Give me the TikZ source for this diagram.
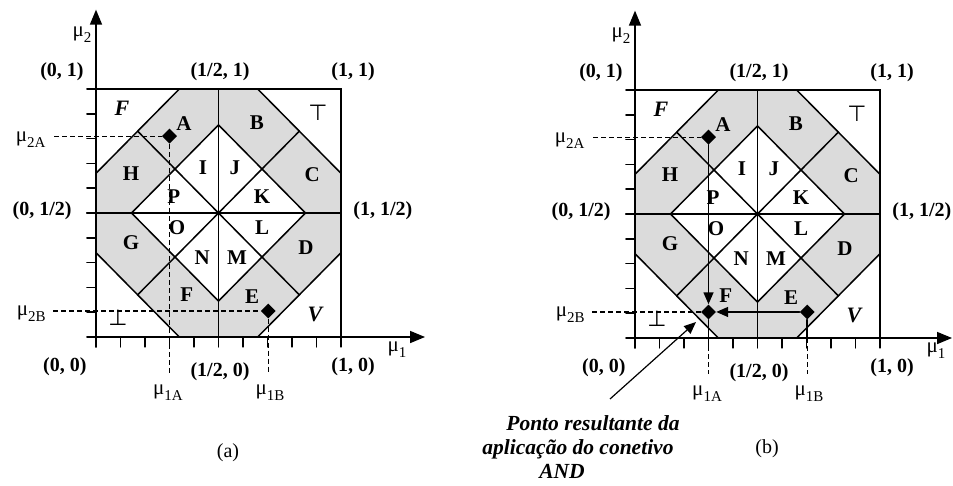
\documentclass[tikz,border=0pt]{standalone}
\usepackage{fontspec}
\setmainfont{Liberation Serif}
\newfontfamily\symf{DejaVu Sans}
\usetikzlibrary{arrows.meta,shapes.geometric}
\newcommand\mulbl[1]{μ\raisebox{-0.28em}{\fontsize{15}{15}\selectfont #1}}
\tikzset{
  ln/.style={line width=1.5pt, line cap=round},
  thinln/.style={line width=1.2pt},
  coordlbl/.style={font=\fontsize{20}{20}\selectfont\bfseries, inner sep=0pt},
  reglbl/.style={font=\fontsize{21}{21}\selectfont\bfseries, inner sep=0pt},
  itlbl/.style={font=\fontsize{22}{22}\selectfont\bfseries\itshape, inner sep=0pt},
  symlbl/.style={font=\fontsize{22}{22}\selectfont\symf, inner sep=0pt},
  mulab/.style={font=\fontsize{21}{21}\selectfont, inner sep=0pt},
  caplbl/.style={font=\fontsize{20}{20}\selectfont, inner sep=0pt},
  annot/.style={font=\fontsize{21.5}{24}\selectfont\bfseries\itshape, inner sep=0pt, align=center},
  ptmark/.style={diamond, fill=black, minimum width=15pt, minimum height=15pt, inner sep=0pt},
  dsh/.style={line width=1.2pt, dash pattern=on 5pt off 3pt},
  axtip/.style={-{Triangle[length=15pt,width=12pt]}},
  smalltip/.style={-{Triangle[length=12pt,width=10pt]}},
  region/.style={fill=black!14},
}
\begin{document}
\begin{tikzpicture}[x=1pt,y=-1pt]
\fill[white] (0,0) rectangle (953,485);
\useasboundingbox (0,0) rectangle (953,485);
\foreach \p/\ox/\oy/\xe in {a/96/337/1.343, b/635/338/1.294}{
  \begin{scope}[shift={(\ox,\oy)},x=245pt,y=248pt]
    % shaded octagon minus inner diamond
    \fill[region, even odd rule]
      (0.34,0) -- (0.66,0) -- (1,0.34) -- (1,0.66) -- (0.66,1) -- (0.34,1) -- (0,0.66) -- (0,0.34) -- cycle
      (0.145,0.5) -- (0.5,0.855) -- (0.855,0.5) -- (0.5,0.145) -- cycle;
    % frame and grid lines
    \draw[ln] (0,1) -- (1,1) -- (1,0);
    \draw[ln] (-0.037,1) -- (0,1);
    \draw[ln] (0.5,0) -- (0.5,1);
    \draw[ln] (-0.037,0.5) -- (1,0.5);
    \draw[ln] (0,0.66) -- (0.34,1);
    \draw[ln] (0.66,1) -- (1,0.66);
    \draw[ln] (1,0.34) -- (0.66,0);
    \draw[ln] (0.34,0) -- (0,0.34);
    \draw[ln] (0.17,0.17) -- (0.83,0.83);
    \draw[ln] (0.17,0.83) -- (0.83,0.17);
    \draw[ln] (0.145,0.5) -- (0.5,0.855) -- (0.855,0.5) -- (0.5,0.145) -- cycle;
    % axes
    \draw[ln, axtip] (0,-0.04) -- (0,1.32);
    \draw[ln, axtip] (-0.037,0) -- (\xe,0);
    \foreach \t in {1,...,9} \draw[ln] (-0.037,\t/10) -- (0,\t/10);
    \foreach \t in {0,...,10} \draw[ln] (\t/10,0) -- (\t/10,-0.04);
    % axis labels
    \node[mulab] (mu2-\p) at (-0.057,1.218) {\mulbl{2}};
    \node[mulab] (mu1-\p) at (1.229,-0.052) {\mulbl{1}};
    \node[coordlbl] (c01-\p) at (-0.139,1.069) {(0, 1)};
    \node[coordlbl] (ch1-\p) at (0.506,1.069) {(1/2, 1)};
    \node[coordlbl] (c11-\p) at (1.049,1.069) {(1, 1)};
    \node[coordlbl] (c0h-\p) at (-0.22,0.508) {(0, 1/2)};
    \node[coordlbl] (c1h-\p) at (1.171,0.508) {(1, 1/2)};
    \node[coordlbl] (c00-\p) at (-0.127,-0.121) {(0, 0)};
    \node[coordlbl] (ch0-\p) at (0.506,-0.141) {(1/2, 0)};
    \node[coordlbl] (c10-\p) at (1.049,-0.121) {(1, 0)};
    % region labels
    \node[itlbl] (rFt-\p) at (0.106,0.923) {F};
    \node[symlbl] (rT-\p) at (0.906,0.903) {⊤};
    \node[reglbl] (rA-\p) at (0.359,0.859) {A};
    \node[reglbl] (rB-\p) at (0.657,0.863) {B};
    \node[reglbl] (rH-\p) at (0.143,0.657) {H};
    \node[reglbl] (rI-\p) at (0.437,0.681) {I};
    \node[reglbl] (rJ-\p) at (0.567,0.681) {J};
    \node[reglbl] (rC-\p) at (0.882,0.653) {C};
    \node[reglbl] (rP-\p) at (0.318,0.565) {P};
    \node[reglbl] (rK-\p) at (0.678,0.565) {K};
    \node[reglbl] (rO-\p) at (0.331,0.44) {O};
    \node[reglbl] (rL-\p) at (0.678,0.44) {L};
    \node[reglbl] (rG-\p) at (0.143,0.379) {G};
    \node[reglbl] (rD-\p) at (0.857,0.359) {D};
    \node[reglbl] (rN-\p) at (0.433,0.319) {N};
    \node[reglbl] (rM-\p) at (0.576,0.319) {M};
    \node[reglbl] (rF-\p) at (0.371,0.169) {F};
    \node[reglbl] (rE-\p) at (0.637,0.161) {E};
    \node[symlbl] (rBot-\p) at (0.09,0.077) {⊥};
    \node[itlbl] (rV-\p) at (0.894,0.089) {V};
    % value labels
    \node[mulab, anchor=base east, yshift=-5pt] (m2A-\p) at (-0.205,0.81) {\mulbl{2A}};
    \node[mulab, anchor=base east, yshift=-5pt] (m2B-\p) at (-0.205,0.105) {\mulbl{2B}};
    \node[mulab] (m1A-\p) at (0.294,-0.226) {\mulbl{1A}};
    \node[mulab] (m1B-\p) at (0.71,-0.226) {\mulbl{1B}};
    \coordinate (s2A-\p) at (-0.17,0.81);
    \coordinate (s2B-\p) at (-0.175,0.105);
    \coordinate (e1A-\p) at (0.3,-0.145);
    \coordinate (e1B-\p) at (0.703,-0.145);
    \coordinate (x1A-\p) at (0.3,0);
    \coordinate (x1B-\p) at (0.703,0);
  \end{scope}
}
% panel (a) specifics
\begin{scope}[shift={(96,337)},x=245pt,y=248pt]
  \node[ptmark] (pA-a) at (0.3,0.81) {};
  \node[ptmark] (pB-a) at (0.703,0.105) {};
  \draw[dsh] (s2A-a) -- (pA-a);
  \draw[dsh] (s2B-a) -- (pB-a);
  \draw[dsh] (pA-a) -- (e1A-a);
  \draw[dsh] (pB-a) -- (e1B-a);
  \node[caplbl] (capa) at (0.539,-0.468) {(a)};
\end{scope}
% panel (b) specifics
\begin{scope}[shift={(635,338)},x=245pt,y=248pt]
  \node[ptmark] (pA-b) at (0.3,0.81) {};
  \node[ptmark] (pF-b) at (0.3,0.105) {};
  \node[ptmark] (pE-b) at (0.703,0.105) {};
  \draw[dsh] (s2A-b) -- (pA-b);
  \draw[dsh] (s2B-b) -- (pF-b);
  \draw[ln, smalltip] (pA-b) -- (pF-b);
  \draw[ln, smalltip] (pE-b) -- (pF-b);
  \draw[ln] (pF-b) -- (x1A-b);
  \draw[ln] (pE-b) -- (x1B-b);
  \draw[dsh] (x1A-b) -- (e1A-b);
  \draw[dsh] (x1B-b) -- (e1B-b);
  \node[caplbl] (capb) at (0.539,-0.445) {(b)};
\end{scope}
% annotation
\node[annot] (ann) at (578,447) {\hspace*{30pt}Ponto resultante da\\aplicação do conetivo\\AND\hspace*{32pt}};
\coordinate (annS) at (610,399);
\coordinate (annT) at (696,322);
\draw[thinln, smalltip] (annS) -- (annT);
\end{tikzpicture}
\end{document}
